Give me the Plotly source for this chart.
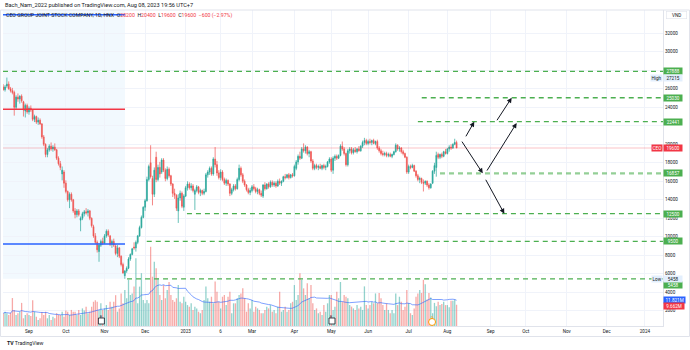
import plotly.graph_objects as go
import pandas as pd

# ---------------- data (prices in hundreds of VND, volume in millions) ----------------
bar_index = list(range(-14, 233))   # trading-day number, 0 = 5 Sep 2022, 232 = 8 Aug 2023

opens = [262,259,263,265,260,258,256,240,251,249,252,246,236,242,
 235,239,237,227,230,224,226,222,208,200,189,194,198,195,197,194,185,179,168,170,
 158,149,140,146,140,128,124,128,118,120,125,127,126,128,120,111,101,94,84,91,
 95,93,101,106,101,92,95,90,82,88,79,70,58,63,66,76,81,89,88,94,
 101,110,121,132,139,162,180,163,146,186,162,175,170,183,172,163,173,166,157,147,
 145,128,142,147,132,144,153,157,153,155,146,150,154,148,150,147,149,167,170,174,
 168,184,178,169,164,170,162,158,161,157,147,151,155,152,162,174,167,160,156,151,
 148,150,154,152,149,151,147,144,156,152,157,154,159,156,158,155,160,158,160,165,
 164,167,164,167,166,174,181,187,185,195,193,197,190,192,182,174,177,175,176,174,
 177,175,176,181,184,172,185,187,185,188,198,195,190,178,193,195,191,194,192,195,
 193,198,202,204,201,203,202,204,201,203,196,193,190,189,190,188,189,187,189,192,
 199,195,196,192,190,186,170,176,175,177,171,166,162,163,159,158,160,156,153,158,
 171,175,189,186,189,187,192,190,195,197,196,200,202]
highs = [265,264,272.15,268,262,261,258,253,255,253,254,247,244,244,
 241,242,238,232,231,229,228,223,210,201,196,200,202,199,201,195,187,182,176,172,
 161,150,148,148,141,131,130,130,122,127,129,131,130,129,121,113,104,96,93,97,
 99,103,108,108,102,97,98,92,91,89,80,72,64,68,78,82,88,94,96,102,
 112,123,133,141,165,178,199,166,175,192,178,181,185,185,174,176,175,167,158,152,
 146,146,150,149,146,155,160,159,158,157,152,156,155,152,151,152,169,172,176,176,
 186,197,182,172,173,172,164,163,162,158,153,157,157,164,178,176,169,162,157,153,
 153,156,157,154,153,152,150,157,159,158,159,161,161,160,160,162,163,161,166,168,
 168,169,168,169,178,183,189,192,197,201,199,198,194,193,184,179,179,178,179,178,
 179,178,182,186,186,187,189,189,189,200,203,197,191,195,197,197,196,197,196,198,
 199,204,207,206,205,206,205,206,204,205,198,195,193,192,192,191,191,190,193,201,
 200,198,197,194,191,187,178,178,179,178,172,168,165,164,162,161,161,158,158,172,
 180,192,191,190,191,193,195,196,199,200,201,206,204]
lows = [258,257,261,259,256,254,231,238,246,244,245,230,229,233,
 232,235,225,224,222,221,221,206,198,186,186,192,193,192,193,183,177,172,161,153,
 147,138,131,138,126,120,121,122,106,118,122,124,122,118,110,99,92,83,73,89,
 91,92,99,100,90,88,89,80,78,77,68,60,54.58,61,65,74,80,86,84,92,
 100,109,120,128,138,160,163,134,143,159,160,164,168,170,160,161,164,155,143,141,
 128,115,139,131,128,143,150,151,150,148,129,148,146,144,145,145,148,164,167,166,
 166,175,166,162,161,160,156,155,155,144,145,149,150,151,160,165,158,154,149,146,
 145,148,150,147,146,145,143,142,150,151,152,153,154,154,153,154,156,155,159,162,
 163,162,163,164,165,172,178,183,184,191,190,188,186,180,172,172,173,172,173,172,
 173,172,175,179,170,168,182,183,184,187,193,188,176,176,190,189,189,191,190,192,
 192,196,199,199,199,200,199,200,199,194,191,188,187,187,186,186,186,185,188,191,
 193,192,190,188,185,168,168,173,174,170,164,160,158,157,149,156,154,151,152,157,
 168,165,184,184,185,186,189,189,192,194,195,199,196]
closes = [259,262,265,260,258,256,240,251,249,252,247,237,242,235,
 239,237,227,230,224,226,222,208,200,189,194,198,195,197,194,185,179,175,172,158,
 149,140,146,140,128,124,128,124,120,125,127,126,128,120,112,101,94,86,91,95,
 93,101,106,102,92,95,91,82,88,79,70,61,63,66,76,81,87,88,94,101,
 110,121,132,139,162,176,165,146,172,162,175,168,183,172,163,173,166,157,147,145,
 131,142,147,133,144,153,157,153,155,150,150,154,148,150,147,149,167,170,174,168,
 184,178,169,164,170,162,158,161,157,147,151,155,152,162,174,167,160,156,151,148,
 150,154,152,149,151,147,145,156,152,157,154,159,156,158,155,160,158,160,165,164,
 167,164,167,166,176,181,187,185,195,193,197,190,192,182,174,177,175,176,174,177,
 175,176,181,184,172,185,187,185,188,198,195,190,178,193,195,191,194,192,195,193,
 198,202,204,201,203,202,204,201,203,196,193,190,189,190,188,189,187,189,192,199,
 195,196,192,190,186,170,176,175,177,171,166,162,163,159,158,160,156,153,157,171,
 177,188,186,189,187,192,190,195,197,196,200,202,196]
volumes_m = [5.8,6.5,5.8,5.0,6.0,12.7,7.3,5.0,5.8,6.5,10.5,3.5,5.0,5.8,
 5.0,4.5,11.7,6.5,4.2,2.7,3.5,6.4,5.0,6.5,
 3.5,5.0,2.7,4.2,3.5,5.8,5.0,5.0,6.5,4.2,
 7.0,6.5,5.0,7.3,6.5,6.5,5.0,7.3,5.0,8.0,
 7.0,8.8,5.8,6.5,8.8,11.0,11.7,11.0,7.3,10.3,
 7.3,8.0,9.5,7.3,11.0,8.8,11.0,14.0,6.5,8.0,
 14.8,10.3,16.4,12.6,21.0,14.1,14.8,18.0,30.8,10.3,
 17.9,24.0,11.8,10.3,11.8,10.3,36.0,22.4,29.2,26.2,
 21.7,14.1,11.8,18.6,12.6,16.4,20.0,14.1,11.8,11.0,
 12.6,18.6,11.0,10.3,13.3,11.0,9.5,8.8,10.3,7.3,
 8.8,8.0,6.5,5.8,7.3,11.8,18.0,12.6,11.0,13.3,
 10.3,20.2,15.6,11.0,8.0,13.3,14.1,9.5,13.3,15.6,
 5.8,10.3,10.3,12.6,14.1,14.8,17.1,12.6,6.5,10.3,
 8.0,11.8,6.5,8.8,8.0,7.3,5.8,5.8,7.3,8.8,
 8.0,9.5,6.5,7.3,5.8,8.8,15.6,6.5,7.3,8.8,
 6.5,7.3,10.3,11.0,18.6,11.8,14.1,24.0,21.0,17.1,
 14.1,19.4,12.6,18.6,10.3,7.3,8.0,5.8,6.5,5.0,
 9.5,6.5,10.3,14.1,14.1,7.3,8.8,15.6,12.6,20.0,
 11.0,14.1,13.3,12.6,9.5,8.8,8.0,7.3,9.5,8.0,
 8.8,7.3,18.0,9.5,8.0,9.5,11.0,10.3,14.8,10.3,
 15.0,12.6,9.5,7.3,10.3,7.3,5.8,7.3,5.8,14.8,
 9.5,13.3,11.0,7.3,8.8,16.4,10.3,5.8,5.0,8.0,
 13.3,14.8,16.4,15.0,21.0,19.0,12.0,15.0,13.0,5.8,
 10.5,9.0,11.0,9.5,10.0,11.0,9.5,9.5,8.5,11.5,
 11.5,12.0,9.662]

assert len(opens) == len(highs) == len(lows) == len(closes) == len(volumes_m) == len(bar_index)

month_ticks = [0, 20, 41, 63, 85, 104, 121, 144, 164, 184, 206, 227, 250.5, 269.5, 291.8, 313.4, 334.2]
month_labels = ["Sep", "Oct", "Nov", "Dec", "2023", "6", "Mar", "Apr", "May", "Jun", "Jul", "Aug",
                "Sep", "Oct", "Nov", "Dec", "2024"]
price_ticks = list(range(2000, 34000, 2000))
hidden_price_ticks = [28000, 22000]   # covered by level labels in the reference

level_prices = [27888, 25030, 22441, 16857, 12500, 9500, 5458]
level_starts = [-14.1, 213.1, 211.0, 223.0, 85.7, 63.9, 53.2]
zone_end = 52.1                      # right edge of the highlighted zone (bar number)
zone_low = 5458
red_level = 23800
blue_levels = [9222, 34000]
last_price = 19600
high_price = 27215
low_price = 5458
# projection arrows: (tail bar, tail price, head bar, head price)
arrows = [(236.6, 20700, 241.6, 22441), (253.4, 22441, 261.9, 25030),
          (234.4, 20450, 246.2, 16857), (248.0, 17000, 264.6, 22300),
          (247.4, 16330, 257.9, 12500)]
event_marks = [(39.3, "E"), (164.4, "E")]
dividend_mark = 218.7

# ---------------- figure ----------------
UP, DN = "#26a69a", "#ef5350"
GREEN = "#4caf50"
FONT = "Roboto"
X_RANGE = [-14.1, 344.0]
Y_RANGE = [357, 34519]
V_RANGE = [0, 143.6e6]

o = [v * 100 for v in opens]
h = [v * 100 for v in highs]
l = [v * 100 for v in lows]
c = [v * 100 for v in closes]
vol = [v * 1e6 for v in volumes_m]
vol_ma = pd.Series(vol).rolling(20, min_periods=1).mean()
vcolors = ["rgba(38,166,154,0.5)" if cc >= oo else "rgba(239,83,80,0.5)" for oo, cc in zip(o, c)]

fig = go.Figure()
fig.add_trace(go.Bar(x=bar_index, y=vol, marker_color=vcolors, marker_line_width=0,
                     width=0.7, yaxis="y", hoverinfo="skip"))
fig.add_trace(go.Scatter(x=bar_index, y=vol_ma, mode="lines", yaxis="y",
                         line=dict(color="rgba(41,98,255,0.6)", width=1), hoverinfo="skip"))
fig.add_trace(go.Candlestick(x=bar_index, open=o, high=h, low=l, close=c, yaxis="y2",
                             increasing=dict(line=dict(color=UP, width=0.7), fillcolor=UP),
                             decreasing=dict(line=dict(color=DN, width=0.7), fillcolor=DN),
                             whiskerwidth=0, hoverinfo="skip"))

shapes = []
# highlighted zone
shapes.append(dict(type="rect", xref="x", yref="y2", x0=X_RANGE[0], x1=zone_end, y0=zone_low, y1=Y_RANGE[1],
                   fillcolor="rgba(33,150,243,0.06)", line=dict(width=0), layer="below"))
shapes.append(dict(type="line", xref="x", yref="y2", x0=X_RANGE[0], x1=zone_end, y0=red_level, y1=red_level,
                   line=dict(color="#f23645", width=1.5)))
for bl in blue_levels:
    shapes.append(dict(type="line", xref="x", yref="y2", x0=X_RANGE[0], x1=zone_end, y0=bl, y1=bl,
                       line=dict(color="#2962ff", width=1.5)))
# last price line
shapes.append(dict(type="line", xref="x", yref="y2", x0=X_RANGE[0], x1=X_RANGE[1], y0=last_price, y1=last_price,
                   line=dict(color="rgba(242,54,69,0.3)", width=1)))
# green dashed levels
for lp, ls in zip(level_prices, level_starts):
    wide = lp == 16857
    shapes.append(dict(type="line", xref="x", yref="y2", x0=ls, x1=X_RANGE[1], y0=lp, y1=lp,
                       line=dict(color="rgba(76,175,80,0.6)" if wide else GREEN,
                                 width=2.2 if wide else 1.3, dash="5px,4px")))
# outer frame
shapes.append(dict(type="rect", xref="paper", yref="paper", x0=-0.0038, x1=1.0402, y0=-0.0332, y1=1.0,
                   line=dict(color="#e0e3eb", width=1), fillcolor="rgba(0,0,0,0)"))
# event markers
for ex, _ in event_marks:
    shapes.append(dict(type="rect", xref="x", yref="paper", xsizemode="pixel", ysizemode="pixel",
                       xanchor=ex, yanchor=0.0158, x0=-3, x1=3, y0=-3, y1=3,
                       line=dict(color="#131722", width=0.8), fillcolor="white"))
shapes.append(dict(type="circle", xref="x", yref="paper", xsizemode="pixel", ysizemode="pixel",
                   xanchor=dividend_mark, yanchor=0.0127, x0=-3.5, x1=3.5, y0=-3.5, y1=3.5,
                   line=dict(color="#ff9800", width=1), fillcolor="white"))

ann = []
def axis_label(val, text, bg, fg="white", yref="y2", yshift=0, width=17):
    ann.append(dict(x=1, xref="paper", y=val, yref=yref, xanchor="left", yanchor="middle",
                    text=text, showarrow=False, bgcolor=bg, font=dict(size=4.6, color=fg, family=FONT),
                    borderpad=0.6, width=width, align="center", yshift=yshift))

for lp in level_prices:
    axis_label(lp, str(lp), GREEN, yshift=-6 if lp == low_price else 0)
axis_label(last_price, str(last_price), "#f23645")
ann.append(dict(x=1, xref="paper", y=last_price, yref="y2", xanchor="right", yanchor="middle", text="CEO",
                showarrow=False, bgcolor="#f23645", font=dict(size=4.6, color="white", family=FONT), borderpad=0.6))
axis_label(high_price, str(high_price), "#e3effd", fg="#131722")
ann.append(dict(x=1, xref="paper", y=high_price, yref="y2", xanchor="right", yanchor="middle", text="High",
                showarrow=False, bgcolor="#e3effd", font=dict(size=4.6, color="#131722", family=FONT), borderpad=0.6))
axis_label(low_price, str(low_price), "#e3effd", fg="#131722")
ann.append(dict(x=1, xref="paper", y=low_price, yref="y2", xanchor="right", yanchor="middle", text="Low",
                showarrow=False, bgcolor="#e3effd", font=dict(size=4.6, color="#131722", family=FONT), borderpad=0.6))
axis_label(vol_ma.iloc[-1], "11.821M", "#2962ff", yref="y", width=20)
axis_label(vol[-1], "9.662M", "#f23645", yref="y", width=19, yshift=-1)

# VND unit box
ann.append(dict(x=1.0197, xref="paper", y=0.984, yref="paper", xanchor="center", yanchor="middle", text="VND",
                showarrow=False, bgcolor="white", bordercolor="#e0e3eb", borderwidth=0.6, borderpad=1,
                font=dict(size=4.6, color="#131722", family=FONT), width=18))
# header and legend
ann.append(dict(x=0.0, xref="paper", y=1.0158, yref="paper", xanchor="left", yanchor="middle", showarrow=False,
                text="Bach_Nam_2022 published on TradingView.com, Aug 08, 2023 19:56 UTC+7",
                font=dict(size=5.6, color="#131722", family=FONT)))
R = "<span style='color:#f23645'>"
ann.append(dict(x=0.0015, xref="paper", y=0.984, yref="paper", xanchor="left", yanchor="middle", showarrow=False,
                text=("CEO GROUP JOINT STOCK COMPANY, 1D, HNX  O" + R + "20200</span>  H" + R + "20400</span>  L" + R +
                      "19600</span>  C" + R + "19600  −600 (−2.97%)</span>"),
                font=dict(size=5.2, color="#131722", family=FONT)))
# footer
ann.append(dict(x=0.003, xref="paper", y=-0.054, yref="paper", xanchor="left", yanchor="middle", showarrow=False,
                text="<b>TV</b> TradingView", font=dict(size=5.2, color="#131722", family=FONT)))
# event marker letters
for ex, t in event_marks:
    ann.append(dict(x=ex, xref="x", y=0.0158, yref="paper", text=t, showarrow=False,
                    font=dict(size=3.8, color="#131722", family=FONT)))
ann.append(dict(x=dividend_mark, xref="x", y=0.0127, yref="paper", text="D", showarrow=False,
                font=dict(size=3.8, color="#ff9800", family=FONT)))
# projection arrows
for tx, ty, hx, hy in arrows:
    ann.append(dict(x=hx, y=hy, xref="x", yref="y2", ax=tx, ay=ty, axref="x", ayref="y2", text="",
                    showarrow=True, arrowhead=2, arrowsize=1, arrowwidth=1, arrowcolor="#131722"))

fig.update_layout(
    width=690, height=350, margin=dict(l=3, r=27, t=10, b=24),
    paper_bgcolor="white", plot_bgcolor="white", showlegend=False,
    shapes=shapes, annotations=ann,
    xaxis=dict(range=X_RANGE, tickvals=month_ticks, ticktext=month_labels, showgrid=True,
               gridcolor="#f0f3fa", gridwidth=1, zeroline=False, showline=True, linecolor="#e0e3eb",
               ticks="", tickfont=dict(size=4.6, color="#131722", family=FONT),
               rangeslider=dict(visible=False), fixedrange=True),
    yaxis=dict(range=V_RANGE, visible=False, fixedrange=True, showgrid=False),
    yaxis2=dict(overlaying="y", side="right", range=Y_RANGE, tickvals=price_ticks,
                ticktext=["" if p in hidden_price_ticks else str(p) for p in price_ticks],
                showgrid=True, gridcolor="#f0f3fa",
                zeroline=False, showline=True, linecolor="#e0e3eb", ticks="",
                tickfont=dict(size=4.6, color="#131722", family=FONT), fixedrange=True),
    font=dict(family=FONT),
)
fig.write_html("out.html")
